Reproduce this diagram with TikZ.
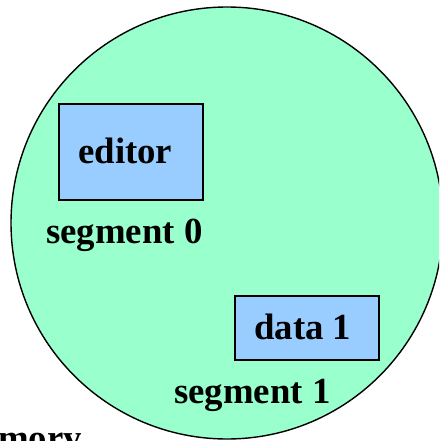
\documentclass[tikz,border=0pt]{standalone}
\usepackage{fontspec}
\setmainfont{Liberation Serif}
\definecolor{segmint}{HTML}{99FFCC}
\definecolor{segblue}{HTML}{99CCFF}
\begin{document}
\begin{tikzpicture}[x=1pt,y=-1pt,
  memspace/.style={circle,draw=black,line width=1.4pt,fill=segmint,minimum size=432pt,inner sep=0pt},
  segbox/.style={rectangle,draw=black,line width=1.9pt,fill=segblue,inner sep=0pt},
  lbl/.style={anchor=base west,inner sep=0pt,font=\fontsize{36.8}{40}\selectfont\bfseries}]
  \useasboundingbox (0,0) rectangle (439,441);
  \clip (0,0) rectangle (439,441);
  \node[memspace] (proc) at (227,223) {};
  \node[segbox,minimum width=144pt,minimum height=96pt] (seg0) at (131,152) {};
  \node[segbox,minimum width=144pt,minimum height=64pt] (seg1) at (307,328) {};
  \node[lbl] (t0) at (78,163) {editor};
  \node[lbl] (t1) at (254,339) {data 1};
  \node[lbl] (n0) at (46,243) {segment 0};
  \node[lbl] (n1) at (174,403) {segment 1};
  \node[lbl] (mem) at (-49,450) {memory};
\end{tikzpicture}
\end{document}
